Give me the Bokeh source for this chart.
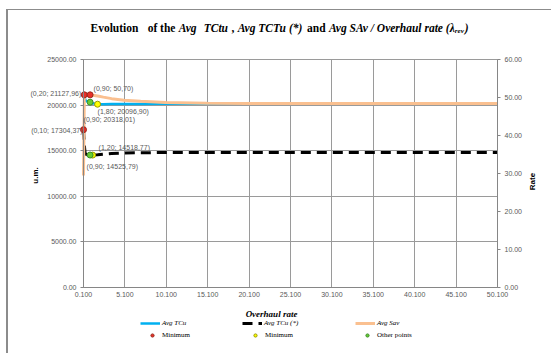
import math
from bokeh.plotting import figure
from bokeh.models import (Range1d, LinearAxis, FixedTicker, NumeralTickFormatter,
                          Label, Legend, LegendItem)
from bokeh.embed import file_html
from bokeh.resources import INLINE

# ---------------- data ----------------
overhaul_rate = [0.1, 0.2, 0.3, 0.5, 0.9, 1.2, 1.8, 2.5, 3.5, 5.0, 7.0, 10.0, 15.0, 20.0, 30.0, 40.0, 50.1]
avg_tcu = [20900, 21127.96, 20600, 20420, 20318.01, 20200, 20096.90, 20105, 20115, 20125,
           20130, 20135, 20135, 20135, 20135, 20135, 20135]
avg_tcu_star = [17304.37, 15600, 14700, 14560, 14525.79, 14518.77, 14560, 14620, 14690, 14740,
                14780, 14800, 14810, 14810, 14810, 14810, 14810]
avg_sav = [29.5, 50.3, 50.5, 50.6, 50.70, 50.6, 50.4, 50.1, 49.7, 49.3, 49.0, 48.7, 48.5,
           48.45, 48.4, 48.4, 48.4]

red_x = [0.1, 0.2]
red_y = [17304.37, 21127.96]
red_rate_x = [0.9]
red_rate_y = [50.70]
yellow_x = [1.8, 1.2]
yellow_y = [20096.90, 14518.77]
green_x = [0.9, 0.9]
green_y = [20318.01, 14525.79]

x_ticks = [0.1, 5.1, 10.1, 15.1, 20.1, 25.1, 30.1, 35.1, 40.1, 45.1, 50.1]
um_ticks = [0, 5000, 10000, 15000, 20000, 25000]
rate_ticks = [0, 10, 20, 30, 40, 50, 60]

X_LO, X_HI = x_ticks[0], x_ticks[-1]
Y_LO, Y_HI = um_ticks[0], um_ticks[-1]
R_LO, R_HI = rate_ticks[0], rate_ticks[-1]

# ---------------- layout (pixels) ----------------
W, H = 545, 344                    # canvas size (placed at page x=8, y=10)
PL, PR, PT, PB = 75, 56, 49, 67    # space around the data area
DW, DH = W - PL - PR, H - PT - PB  # data area 414 x 228

# the frame fills the whole canvas so that texts outside the data area are not clipped;
# ranges are widened so that the data area lands where the reference has it
xpp = (X_HI - X_LO) / DW
ypp = (Y_HI - Y_LO) / DH
rpp = (R_HI - R_LO) / DH
x_range = Range1d(X_LO - PL * xpp, X_HI + PR * xpp)
y_range = Range1d(Y_LO - PB * ypp, Y_HI + PT * ypp)
r_range = Range1d(R_LO - PB * rpp, R_HI + PT * rpp)

p = figure(width=W, height=H, output_backend="svg", toolbar_location=None,
           x_range=x_range, y_range=y_range, title_location=None,
           min_border_left=0, min_border_right=0, min_border_top=0, min_border_bottom=0)
p.styles = {"margin-left": "6px", "margin-top": "9px",
            "border-left": "2px solid #8c8c8c", "border-top": "1px solid #8c8c8c"}
p.extra_y_ranges = {"rate": r_range}
p.outline_line_color = None
p.background_fill_color = "white"
p.border_fill_color = "white"

TICK_FONT = "Liberation Sans"
SERIF = "Liberation Serif"
GREY = "#595959"

def style_axis(ax):
    ax.axis_line_color = "#868686"
    ax.major_tick_line_color = "#868686"
    ax.minor_tick_line_color = None
    ax.major_tick_in = 0
    ax.major_tick_out = 3
    ax.major_label_text_font = TICK_FONT
    ax.major_label_text_font_size = "7px"
    ax.major_label_text_color = GREY
    ax.major_label_standoff = 4

xax = p.xaxis[0]
xax.ticker = FixedTicker(ticks=x_ticks)
xax.formatter = NumeralTickFormatter(format="0.000")
xax.fixed_location = Y_LO
xax.bounds = (X_LO, X_HI)
style_axis(xax)
xax.major_tick_out = 0

yax = p.yaxis[0]
yax.ticker = FixedTicker(ticks=um_ticks)
yax.formatter = NumeralTickFormatter(format="0.00")
yax.fixed_location = X_LO
yax.bounds = (Y_LO, Y_HI)
style_axis(yax)

rax = LinearAxis(y_range_name="rate", ticker=FixedTicker(ticks=rate_ticks),
                 formatter=NumeralTickFormatter(format="0.00"),
                 fixed_location=X_HI, bounds=(R_LO, R_HI))
style_axis(rax)
p.add_layout(rax, "right")

p.xgrid.ticker = FixedTicker(ticks=x_ticks)
p.xgrid.bounds = (X_LO, X_HI)
p.xgrid.cross_bounds = (Y_LO, Y_HI)
p.ygrid.ticker = FixedTicker(ticks=um_ticks)
p.ygrid.bounds = (Y_LO, Y_HI)
p.ygrid.cross_bounds = (X_LO, X_HI)
for g in (p.xgrid, p.ygrid):
    g.grid_line_color = "#9a9a9a"
    g.grid_line_width = 1

# ---------------- series ----------------
r_tcu = p.line(overhaul_rate, avg_tcu, line_color="#00B0F0", line_width=2.5)
r_star = p.line(overhaul_rate, avg_tcu_star, line_color="black", line_width=3, line_dash="10 6")
r_sav = p.line(overhaul_rate, avg_sav, line_color="#FAC090", line_width=3, y_range_name="rate")

r_red = p.scatter(red_x, red_y, size=6, fill_color="#E8312A", line_color="#9A2B1D")
p.scatter(red_rate_x, red_rate_y, size=6, fill_color="#E8312A", line_color="#9A2B1D",
          y_range_name="rate")
r_yel = p.scatter(yellow_x, yellow_y, size=6, fill_color="#FFFF00", line_color="#9A9A00")
r_grn = p.scatter(green_x, green_y, size=6, fill_color="#66CC33", line_color="#3C8C28")

def fmt(x, y):
    return "(%s; %s)" % (("%.2f" % x).replace(".", ","), ("%.2f" % y).replace(".", ","))

# data labels: (x, y, range, x_offset, y_offset, align)
point_labels = [
    (red_x[1], red_y[1], "default", -3, 1, "right"),
    (red_rate_x[0], red_rate_y[0], "rate", 3.5, 6, "left"),
    (yellow_x[0], yellow_y[0], "default", 0, -7, "left"),
    (green_x[0], green_y[0], "default", -6.5, -17, "left"),
    (red_x[0], red_y[0], "default", -1, -1, "right"),
    (yellow_x[1], yellow_y[1], "default", 6, 7.5, "left"),
    (green_x[1], green_y[1], "default", -3.5, -11.5, "left"),
]
for (lx, ly, rng, dx, dy, al) in point_labels:
    p.add_layout(Label(x=lx, y=ly, y_range_name=rng, x_offset=dx, y_offset=dy,
                       text=fmt(lx, ly), text_align=al, text_baseline="middle",
                       text_font=TICK_FONT, text_font_size="7px", text_color=GREY))

def screen_label(px, py, text, **kw):
    # px, py: page position of the text anchor (canvas starts at page 8, 10)
    p.add_layout(Label(x=px - 8, y=(H + 10) - py, x_units="screen", y_units="screen",
                       text=text, **kw))

# ---------------- title pieces (laid out left to right) ----------------
TITLE_PX = 11.5
title_parts = [  # text, style, size factor, approx width in em, gap after in em
    ("Evolution", "bold", 1.0, 4.168, 0.8),
    ("of the", "bold", 1.0, 2.416, 0.3),
    ("Avg", "bold italic", 1.0, 1.611, 0.55),
    ("TCtu", "bold italic", 1.0, 2.112, 0.3),
    (",", "bold", 1.0, 0.25, 0.3),
    ("Avg TCTu (*)", "bold italic", 1.0, 5.722, 0.3),
    ("and", "bold", 1.0, 1.612, 0.3),
    ("Avg SAv / Overhaul rate (λ", "bold italic", 1.0, 10.92, 0.02),
    ("rev", "bold italic", 0.62, 1.277, 0.08),
    (")", "bold italic", 1.0, 0.333, 0.0),
]
cx = 90.0
for (t, st, fac, w, gap) in title_parts:
    sub = fac < 1
    screen_label(cx, 27 + (3 if sub else 0), t, text_font=SERIF,
                 text_font_size="%.1fpx" % (TITLE_PX * fac), text_font_style=st,
                 text_baseline="middle", text_align="left", text_color="black")
    cx += (w * fac + gap) * TITLE_PX

# axis titles
screen_label(271, 313, "Overhaul rate", text_font=SERIF, text_font_size="9px",
             text_font_style="bold italic", text_align="center", text_baseline="middle",
             text_color="black")
screen_label(35, 175, "u.m.", angle=math.pi / 2, text_font=TICK_FONT, text_font_size="8px",
             text_font_style="bold", text_align="center", text_baseline="middle",
             text_color="black")
screen_label(532, 181, "Rate", angle=math.pi / 2, text_font=TICK_FONT, text_font_size="8px",
             text_font_style="bold", text_align="center", text_baseline="middle",
             text_color="black")

# ---------------- legends ----------------
legend_specs = [  # label, renderer, page x of glyph start, page y of text bottom, glyph w, standoff, style
    ("Avg TCu", r_tcu, 140, 327, 20, 2, "italic"),
    ("Avg TCu (*)", r_star, 242, 327, 20, 2, "italic"),
    ("Avg Sav", r_sav, 355, 327, 20, 2, "italic"),
    ("Minimum", r_red, 147, 339, 10, 5, "normal"),
    ("Minimum", r_yel, 250, 339, 10, 5, "normal"),
    ("Other points", r_grn, 362, 339, 10, 5, "normal"),
]
for (lab, rend, gx, gy, gw, so, st) in legend_specs:
    lg = Legend(items=[LegendItem(label=lab, renderers=[rend])],
                location=(gx - 8, (H + 10) - gy),
                padding=0, margin=0, spacing=0, glyph_width=gw, glyph_height=8,
                label_height=8, label_standoff=so, label_text_font=SERIF,
                label_text_font_size="7px", label_text_font_style=st,
                label_text_color="black", border_line_alpha=0, background_fill_alpha=0)
    p.add_layout(lg, "center")

open("out.html", "w").write(file_html(p, INLINE))
